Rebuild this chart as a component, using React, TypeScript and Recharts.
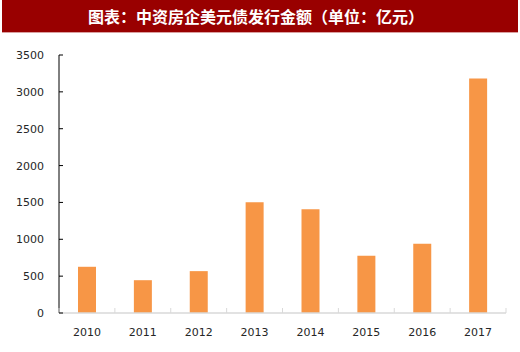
import { BarChart, Bar, XAxis, YAxis } from "recharts";

const years = ["2010", "2011", "2012", "2013", "2014", "2015", "2016", "2017"];
const issuance = [627, 445, 568, 1502, 1409, 777, 940, 3180];
const yTicks = [0, 500, 1000, 1500, 2000, 2500, 3000, 3500];

const data = years.map((year, i) => ({ year, value: issuance[i] }));

const font = "'DejaVu Sans', sans-serif";
const labelColor = "#262626";

// y tick: label to the left, short tick mark inside the plot
function YTick({ x, y, payload }: { x?: number; y?: number; payload?: { value: number } }) {
  const px = x ?? 0;
  const py = y ?? 0;
  return (
    <g>
      <text x={px} y={py} dy={4} textAnchor="end" fontFamily={font} fontSize={11} fill={labelColor}>
        {payload?.value}
      </text>
      <line x1={px + 15} x2={px + 19} y1={py} y2={py} stroke="#000" strokeWidth={1} />
    </g>
  );
}

// x tick: label under the bar, small upward marks on the category boundaries
function XTick({
  x,
  y,
  index,
  payload,
}: {
  x?: number;
  y?: number;
  index?: number;
  payload?: { value: string; offset?: number };
}) {
  const px = x ?? 0;
  const axisY = (y ?? 0) - 14;
  const half = payload?.offset ?? 0;
  return (
    <g>
      {index === 0 && (
        <line x1={px - half} x2={px - half} y1={axisY - 5} y2={axisY} stroke="#d9d9d9" />
      )}
      <line x1={px + half} x2={px + half} y1={axisY - 5} y2={axisY} stroke="#d9d9d9" />
      <text x={px} y={axisY + 23} textAnchor="middle" fontFamily={font} fontSize={11} fill={labelColor}>
        {payload?.value}
      </text>
    </g>
  );
}

export default function App() {
  return (
    <div style={{ position: "absolute", left: 0, top: 0, width: 520, height: 352, background: "#fff" }}>
      <div
        style={{
          position: "absolute",
          left: 2,
          top: 0,
          width: 516,
          height: 33,
          background: "#990000",
          borderBottom: "1px solid #d9a0a0",
          color: "#fff",
          fontFamily: "'Noto Sans CJK SC', sans-serif",
          fontWeight: 700,
          fontSize: 16,
          lineHeight: "33px",
          textAlign: "center",
          boxSizing: "border-box",
          paddingRight: 8,
        }}
      >
        图表：中资房企美元债发行金额（单位：亿元）
      </div>
      <div style={{ position: "absolute", left: 0, top: 0 }}>
        <BarChart
          width={520}
          height={352}
          data={data}
          margin={{ top: 55, right: 14, bottom: 0, left: 0 }}
        >
          <XAxis
            dataKey="year"
            height={39}
            axisLine={{ stroke: "#d9d9d9", strokeWidth: 1.5 }}
            tickLine={false}
            tickSize={0}
            tickMargin={14}
            tick={<XTick />}
            interval={0}
          />
          <YAxis
            domain={[0, 3500]}
            ticks={yTicks}
            width={59}
            tickSize={0}
            tickMargin={15}
            tickLine={false}
            axisLine={{ stroke: "#000", strokeWidth: 1 }}
            tick={<YTick />}
          />
          <Bar dataKey="value" fill="#f79646" barSize={18} isAnimationActive={false} />
        </BarChart>
      </div>
    </div>
  );
}
